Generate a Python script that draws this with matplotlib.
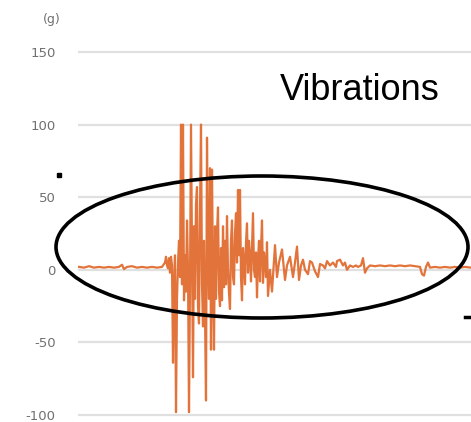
import numpy as np
import matplotlib.pyplot as plt
from matplotlib.patches import Ellipse
from matplotlib.lines import Line2D

# time (s) and acceleration (g)
t_pre = [0.1, 0.6, 1.1, 1.6, 2.1, 2.6, 3.1, 3.6, 4.1, 4.4, 4.6, 4.9, 5.4, 5.9,
         6.4, 6.9, 7.4, 7.9, 8.4]
a_pre = [2, 1.5, 2.5, 1.5, 2, 1.5, 2, 1.5, 2, 3.5, 0.5, 2, 2.5, 1.5,
         2, 1.5, 2, 1.5, 2]

t_burst = [8.7, 8.8, 8.9, 9.0, 9.1, 9.2, 9.3, 9.4, 9.5, 9.6, 9.7, 9.8, 9.9,
           10.0, 10.1, 10.2, 10.3, 10.4, 10.5, 10.6, 10.7, 10.8, 10.9, 11.0,
           11.1, 11.2, 11.3, 11.4, 11.5, 11.6, 11.7, 11.8, 11.9, 12.0, 12.1,
           12.2, 12.3, 12.4, 12.5, 12.6, 12.7, 12.8, 12.9, 13.0, 13.1, 13.2,
           13.3, 13.4, 13.5, 13.6, 13.7, 13.8, 13.9, 14.0, 14.1, 14.2, 14.3,
           14.4, 14.5, 14.6, 14.7, 14.8, 14.9, 15.0, 15.1, 15.2, 15.3, 15.4,
           15.5, 15.6, 15.7, 15.8, 15.9, 16.0, 16.1, 16.2, 16.3, 16.4, 16.5,
           16.6, 16.7, 16.8, 16.9, 17.0, 17.1, 17.2, 17.3, 17.4, 17.5, 17.6,
           17.7, 17.8, 17.9, 18.0, 18.1, 18.2, 18.3, 18.4, 18.5, 18.6, 18.7,
           18.8, 18.9, 19.0]
a_burst = [5, 9, 3, 1, 8, -2, 9, 3, -64, -10, 10, -98, -20,
           5, 20, -5, 100, -10, 100, -21, 10, -15, 34, 0,
           -98, -10, 100, 10, -74, 30, -20, 45, 57, -25, -37,
           40, 100, -10, -39, 20, -30, -90, 91, 10, -20, 70,
           -55, 69, -10, -55, 30, -20, 25, 43, -15, -25, 15,
           -21, 30, -12, 20, -10, 37, 0, -16, -27, 20, 34,
           -5, -10, 25, 39, 5, 55, 10, 55, -5, -21, 15,
           5, -10, 19, 32, -2, 20, 10, -8, 15, 39, 0,
           -5, 12, -19, 7, 20, -8, 15, 34, -9, 12, 5,
           -5, 19, -18]

t_post = [19.2, 19.4, 19.7, 19.9, 20.1, 20.4, 20.7, 20.9, 21.2, 21.5, 21.7,
          21.9, 22.1, 22.3, 22.5, 22.7, 23.0, 23.2, 23.4, 23.7, 24.0, 24.2,
          24.5, 24.7, 24.9, 25.2, 25.5, 25.8, 25.9, 26.2, 26.5, 26.7, 26.9,
          27.2, 27.5, 27.8, 28.0, 28.3, 28.5, 28.7, 28.9, 29.2, 29.7, 30.2,
          30.7, 31.2, 31.7, 32.2, 32.7, 33.2, 33.7, 34.2, 34.4, 34.6, 34.8,
          35.0, 35.2, 35.7, 36.2, 36.7, 37.2, 37.7, 38.2, 38.7, 39.3]
a_post = [0, -15, 17, -5, 5, 14, -7, 3, 9, -5, 5,
          16, -7, 3, 7, 0, -3, 6, 5, -1, -5, 4,
          3, 1, 6, 3, 5, 2, 6, 7, 3, 5, 0,
          3, 2, 3, 2, 3, 8, -2, 1, 3, 2.5, 3,
          2.5, 3, 2.5, 3, 2.5, 3, 2.5, 2, -3, -4, 2,
          5, 1.5, 2, 1.5, 2, 1.5, 2, 1.5, 2, 1.5]

yticks = [-100, -50, 0, 50, 100, 150]

t = t_pre + t_burst + t_post
accel = a_pre + a_burst + a_post

W, H = 471, 422
fig = plt.figure(figsize=(W / 100, H / 100), dpi=100)
ax = fig.add_axes([78 / W, 0, 1 - 78 / W, 1])
ax.set_xlim(0, 39.3)
ax.set_ylim(-104.8, 185.8)

ax.plot(t, accel, color='#E2733A', lw=1.6, zorder=3)

ax.set_yticks(yticks)
ax.set_yticklabels([str(v) for v in yticks])
ax.set_xticks([])
ax.tick_params(axis='y', length=0, pad=16, labelsize=9.5, labelcolor='#707070')
for s in ax.spines.values():
    s.set_visible(False)
ax.grid(axis='y', color='#e0e0e0', lw=1.6)
ax.set_axisbelow(True)

fig.text(52 / W, 1 - 20 / H, '(g)', ha='center', va='center',
         fontsize=9, color='#707070')

# overlay annotations
ell = Ellipse((262 / W, 1 - 247 / H), 412 / W, 142 / H, transform=fig.transFigure,
              fill=False, ec='black', lw=2.6, zorder=5)
fig.add_artist(ell)
fig.text(280 / W, 1 - 91 / H, 'Vibrations', ha='left', va='center',
         fontsize=26, family='Liberation Sans', color='black')
fig.add_artist(Line2D([58.5 / W], [1 - 175 / H], marker='s', ms=3.5, color='black',
                      transform=fig.transFigure))
fig.add_artist(Line2D([465 / W, 471 / W], [1 - 317 / H, 1 - 317 / H], lw=2.5,
                      color='black', transform=fig.transFigure))

fig.savefig('out.png', dpi=100)
